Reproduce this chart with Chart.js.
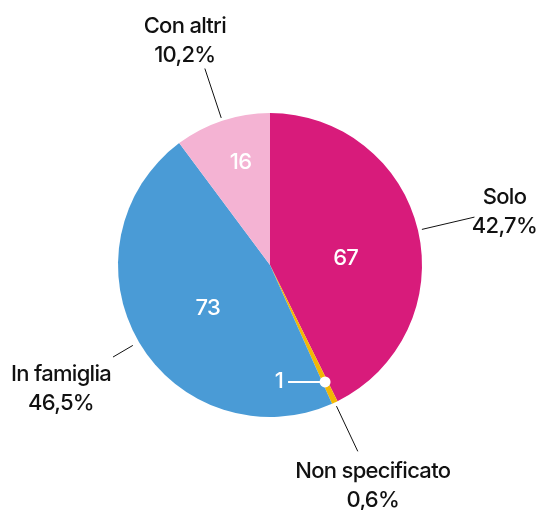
<!DOCTYPE html>
<html>
<head>
<meta charset="utf-8">
<script src="https://cdn.jsdelivr.net/npm/chart.js@4"></script>
<style>
  html, body { margin: 0; padding: 0; background: #fff; }
  #wrap { width: 538px; height: 510px; }
</style>
</head>
<body>
<div id="wrap"><canvas id="chart"></canvas></div>
<script>
const categories = ['Solo', 'Non specificato', 'In famiglia', 'Con altri'];
const counts = [67, 1, 73, 16];
const percentLabels = ['42,7%', '0,6%', '46,5%', '10,2%'];
const colors = ['#d81b7b', '#f2b705', '#4a9bd6', '#f4b3d3'];

// label placement (styles only): dy = first baseline offset from line end
const outerLabel = [
  { r0: 4, r1: 58, dx: 30, dy: -13 },
  { r0: 4, r1: 54, dx: 15, dy: 27 },
  { r0: 7, r1: 30, dx: -52, dy: 24 },
  { r0: 3, r1: 55, dx: -20, dy: -36 }
];
const innerLabel = [
  { rf: 0.5, da: 0.14 },
  null,
  { rf: 0.5, da: -0.08 },
  { rf: 0.7, da: 0.04 }
];

const labelPlugin = {
  id: 'labels',
  afterDatasetsDraw(chart) {
    const ctx = chart.ctx;
    const arcs = chart.getDatasetMeta(0).data;
    ctx.save();
    ctx.letterSpacing = '-0.7px';
    arcs.forEach((arc, i) => {
      const { x, y, startAngle, endAngle, outerRadius } = arc.getProps(['x', 'y', 'startAngle', 'endAngle', 'outerRadius'], true);
      const mid = (startAngle + endAngle) / 2;
      const cos = Math.cos(mid), sin = Math.sin(mid);

      // leader line + category label
      const o = outerLabel[i];
      const ax = x + cos * (outerRadius + o.r0), ay = y + sin * (outerRadius + o.r0);
      const bx = x + cos * (outerRadius + o.r1), by = y + sin * (outerRadius + o.r1);
      ctx.strokeStyle = '#111';
      ctx.lineWidth = 1;
      ctx.beginPath();
      ctx.moveTo(ax, ay);
      ctx.lineTo(bx, by);
      ctx.stroke();

      ctx.fillStyle = '#111';
      ctx.font = '500 22px Inter';
      ctx.textAlign = 'center';
      ctx.textBaseline = 'alphabetic';
      const tx = bx + o.dx, ty = by + o.dy;
      ctx.fillText(categories[i], tx, ty);
      ctx.fillText(percentLabels[i], tx, ty + 29);

      // value inside
      ctx.fillStyle = '#fff';
      ctx.font = '500 22px Inter';
      const inn = innerLabel[i];
      if (inn) {
        const a = mid + inn.da;
        ctx.textBaseline = 'middle';
        ctx.fillText(String(counts[i]), x + Math.cos(a) * outerRadius * inn.rf, y + Math.sin(a) * outerRadius * inn.rf);
      } else {
        // tiny slice: dot on slice, line to the left, value
        const px = x + cos * outerRadius * 0.85, py = y + sin * outerRadius * 0.85;
        ctx.strokeStyle = '#fff';
        ctx.lineWidth = 2;
        ctx.beginPath();
        ctx.moveTo(px, py);
        ctx.lineTo(px - 37, py);
        ctx.stroke();
        ctx.beginPath();
        ctx.arc(px, py, 5.5, 0, Math.PI * 2);
        ctx.fill();
        ctx.textAlign = 'right';
        ctx.textBaseline = 'middle';
        ctx.fillText(String(counts[i]), px - 42, py);
      }
    });
    ctx.restore();
  }
};

new Chart(document.getElementById('chart'), {
  type: 'pie',
  data: {
    labels: categories,
    datasets: [{
      data: counts,
      backgroundColor: colors,
      borderWidth: 0
    }]
  },
  options: {
    responsive: true,
    maintainAspectRatio: false,
    animation: false,
    layout: { padding: { left: 118, right: 116, top: 113, bottom: 93 } },
    plugins: {
      legend: { display: false },
      tooltip: { enabled: false }
    }
  },
  plugins: [labelPlugin]
});
</script>
</body>
</html>
